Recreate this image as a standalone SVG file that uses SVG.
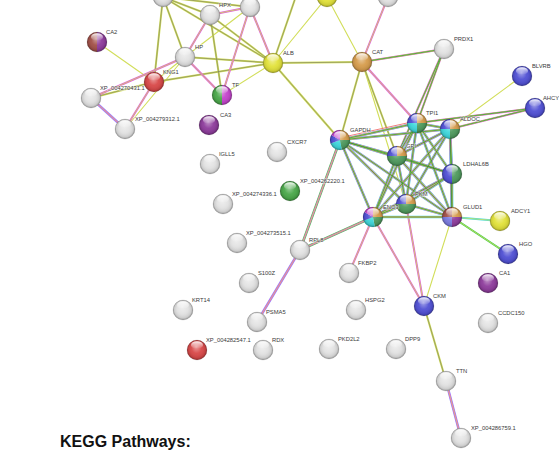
<svg xmlns="http://www.w3.org/2000/svg" xmlns:xlink="http://www.w3.org/1999/xlink" width="559" height="450" viewBox="0 0 559 450">
  <style>
    .lbl { font-family: "Liberation Sans", Arial, sans-serif; font-size: 5.8px; fill: #3a3a3a; stroke: #ffffff; stroke-width: 1.1px; stroke-opacity: 0.7; paint-order: stroke; }
    .title { font-family: "Liberation Sans", Arial, sans-serif; font-size: 16px; font-weight: bold; fill: #111111; }
    .gry { fill: #e2e2e2; }
    .yel { fill: #e2e23a; }
    .org { fill: #d69c4c; }
    .blu { fill: #5050d4; }
    .pur { fill: #8e3c9c; }
    .red { fill: #d84848; }
    .grn { fill: #4aa84a; }
    .dgr { fill: #4f9a5e; }
    .cyn { fill: #3fd8dc; }
    .mag { fill: #c444cc; }
    .brn { fill: #a25048; }
    .lav { fill: #7c7ce0; }
    /* evidence channel strokes */
    .ev-y1 { stroke: #d2de5a; stroke-width: 1.1; }
    .ev-y  { stroke: #d2de5a; stroke-width: 2.0; }
    .ev-k  { stroke: #666666; stroke-width: 0.5; }
    .ev-mo { stroke: #e058e0; stroke-width: 2.0; }
    .ev-yi { stroke: #d2de5a; stroke-width: 0.8; }
    .ev-c  { stroke: #4adce2; stroke-width: 2.7; }
    .ev-m  { stroke: #e050e0; stroke-width: 2.0; }
    .ev-ym { stroke: #d2de5a; stroke-width: 1.35; }
    .ev-g  { stroke: #44cc50; stroke-width: 0.75; }
    .ev-k0 { stroke: #333333; stroke-width: 0.28; }
    .ev-b  { stroke: #9090ff; stroke-width: 2.6; }
    .ev-mh { stroke: #e050e0; stroke-width: 1.6; }
    .ev-yh { stroke: #d2de5a; stroke-width: 0.7; }
    .ev-gw { stroke: #44cc50; stroke-width: 2.6; }
    .ev-gt { stroke: #44cc50; stroke-width: 2.0; }
    .ev-cw { stroke: #4adce2; stroke-width: 2.0; }
    .ev-ys { stroke: #d2de5a; stroke-width: 0.8; }
  </style>
  <defs>
    <radialGradient id="shade" cx="50%" cy="50%" r="50%" fx="46%" fy="34%">
      <stop offset="0" stop-color="#ffffff" stop-opacity="0.45"/>
      <stop offset="0.5" stop-color="#ffffff" stop-opacity="0.05"/>
      <stop offset="0.85" stop-color="#000000" stop-opacity="0.1"/>
      <stop offset="1" stop-color="#000000" stop-opacity="0.36"/>
    </radialGradient>
    <linearGradient id="gloss" x1="0" y1="0" x2="0" y2="1">
      <stop offset="0" stop-color="#ffffff" stop-opacity="0.95"/>
      <stop offset="1" stop-color="#ffffff" stop-opacity="0"/>
    </linearGradient>
    <g id="ball">
      <circle r="10" fill="url(#shade)" stroke="#000000" stroke-opacity="0.16" stroke-width="0.6"/>
      <ellipse cx="0" cy="-5" rx="6" ry="3.8" fill="url(#gloss)"/>
    </g>
    <!-- pie pieces, radius 10 -->
    <path id="q-tl" d="M0,0 L-10,0 A10,10 0 0 1 0,-10 Z"/>
    <path id="q-tr" d="M0,0 L0,-10 A10,10 0 0 1 10,0 Z"/>
    <path id="q-br" d="M0,0 L10,0 A10,10 0 0 1 0,10 Z"/>
    <path id="q-bl" d="M0,0 L0,10 A10,10 0 0 1 -10,0 Z"/>
    <path id="h-l" d="M0,-10 A10,10 0 0 0 0,10 Z"/>
    <path id="h-r" d="M0,-10 A10,10 0 0 1 0,10 Z"/>
    <path id="s5-a" d="M0,0 L0,-10 A10,10 0 0 1 10,0 Z"/>
    <path id="s5-b" d="M0,0 L10,0 A10,10 0 0 1 1.74,9.85 Z"/>
    <path id="s5-c" d="M0,0 L1.74,9.85 A10,10 0 0 1 -9.4,3.42 Z"/>
    <path id="s5-d" d="M0,0 L-9.4,3.42 A10,10 0 0 1 -8.66,-5 Z"/>
    <path id="s5-e" d="M0,0 L-8.66,-5 A10,10 0 0 1 0,-10 Z"/>

    <!-- edge sets, grouped by evidence mix -->
    <g id="set-t">
      <line x1="250" y1="7" x2="185" y2="57"/>
      <line x1="185" y1="57" x2="154" y2="82"/>
      <line x1="125" y1="129" x2="185" y2="57"/>
      <line x1="97" y1="42" x2="154" y2="82"/>
      <line x1="222" y1="95" x2="273" y2="63"/>
      <line x1="273" y1="63" x2="327" y2="-3"/>
      <line x1="327" y1="-3" x2="362" y2="62"/>
      <line x1="362" y1="62" x2="406" y2="204"/>
      <line x1="522" y1="76" x2="450" y2="129"/>
      <line x1="424" y1="306" x2="452" y2="217"/>
    </g>
    <g id="set-tk">
      <line x1="163" y1="-3" x2="210" y2="15"/>
      <line x1="163" y1="-3" x2="250" y2="7"/>
      <line x1="163" y1="-3" x2="185" y2="57"/>
      <line x1="163" y1="-3" x2="154" y2="82"/>
      <line x1="163" y1="-3" x2="273" y2="63"/>
      <line x1="210" y1="15" x2="222" y2="95"/>
      <line x1="210" y1="15" x2="273" y2="63"/>
      <line x1="185" y1="57" x2="273" y2="63"/>
      <line x1="154" y1="82" x2="273" y2="63"/>
      <line x1="154" y1="82" x2="91" y2="98"/>
      <line x1="273" y1="63" x2="305" y2="-30"/>
      <line x1="273" y1="63" x2="362" y2="62"/>
      <line x1="273" y1="63" x2="340" y2="140"/>
      <line x1="362" y1="62" x2="340" y2="140"/>
      <line x1="362" y1="62" x2="397" y2="156"/>
      <line x1="424" y1="306" x2="446" y2="381"/>
    </g>
    <g id="set-tm">
      <line x1="210" y1="15" x2="250" y2="7"/>
      <line x1="210" y1="15" x2="185" y2="57"/>
      <line x1="250" y1="7" x2="273" y2="63"/>
      <line x1="250" y1="7" x2="222" y2="95"/>
      <line x1="185" y1="57" x2="222" y2="95"/>
      <line x1="185" y1="57" x2="91" y2="98"/>
      <line x1="154" y1="82" x2="125" y2="129"/>
      <line x1="388" y1="-3" x2="362" y2="62"/>
      <line x1="362" y1="62" x2="417" y2="123"/>
      <line x1="373" y1="217" x2="349" y2="273"/>
      <line x1="424" y1="306" x2="373" y2="217"/>
      <line x1="424" y1="306" x2="406" y2="204"/>
    </g>
    <g id="set-multi">
      <line x1="362" y1="62" x2="444" y2="49"/>
      <line x1="444" y1="49" x2="417" y2="123"/>
      <line x1="444" y1="49" x2="397" y2="156"/>
      <line x1="535" y1="108" x2="417" y2="123"/>
      <line x1="535" y1="108" x2="450" y2="129"/>
    </g>
    <g id="set-full">
      <line x1="340" y1="140" x2="417" y2="123"/>
      <line x1="340" y1="140" x2="450" y2="129"/>
      <line x1="340" y1="140" x2="397" y2="156"/>
      <line x1="340" y1="140" x2="406" y2="204"/>
      <line x1="340" y1="140" x2="373" y2="217"/>
      <line x1="340" y1="140" x2="452" y2="217"/>
      <line x1="340" y1="140" x2="452" y2="174"/>
      <line x1="417" y1="123" x2="450" y2="129"/>
      <line x1="417" y1="123" x2="397" y2="156"/>
      <line x1="417" y1="123" x2="406" y2="204"/>
      <line x1="417" y1="123" x2="373" y2="217"/>
      <line x1="417" y1="123" x2="452" y2="217"/>
      <line x1="417" y1="123" x2="452" y2="174"/>
      <line x1="450" y1="129" x2="397" y2="156"/>
      <line x1="450" y1="129" x2="406" y2="204"/>
      <line x1="450" y1="129" x2="373" y2="217"/>
      <line x1="450" y1="129" x2="452" y2="217"/>
      <line x1="450" y1="129" x2="452" y2="174"/>
      <line x1="397" y1="156" x2="406" y2="204"/>
      <line x1="397" y1="156" x2="373" y2="217"/>
      <line x1="397" y1="156" x2="452" y2="217"/>
      <line x1="397" y1="156" x2="452" y2="174"/>
      <line x1="406" y1="204" x2="373" y2="217"/>
      <line x1="406" y1="204" x2="452" y2="217"/>
      <line x1="406" y1="204" x2="452" y2="174"/>
      <line x1="373" y1="217" x2="452" y2="217"/>
      <line x1="373" y1="217" x2="452" y2="174"/>
      <line x1="452" y1="174" x2="452" y2="217"/>
    </g>
    <g id="set-hom">
      <line x1="91" y1="98" x2="125" y2="129"/>
      <line x1="300" y1="250" x2="257" y2="322"/>
      <line x1="446" y1="381" x2="461" y2="438"/>
    </g>
    <g id="set-gm">
      <line x1="340" y1="140" x2="300" y2="250"/>
      <line x1="373" y1="217" x2="300" y2="250"/>
    </g>
    <g id="set-tg">
      <line x1="452" y1="217" x2="508" y2="254"/>
    </g>
    <g id="set-cy">
      <line x1="452" y1="217" x2="500" y2="221"/>
    </g>
  </defs>

  <rect width="559" height="450" fill="#ffffff"/>

  <!-- connectors: each set drawn as stacked evidence strands -->
  <g id="connectors" fill="none" stroke-linecap="round">
    <use href="#set-t" class="ev-y1"/>
    <use href="#set-tk" class="ev-y"/>
    <use href="#set-tk" class="ev-k"/>
    <use href="#set-tm" class="ev-mo"/>
    <use href="#set-tm" class="ev-yi"/>
    <use href="#set-hom" class="ev-b"/>
    <use href="#set-hom" class="ev-mh"/>
    <use href="#set-hom" class="ev-yh"/>
    <use href="#set-gm" class="ev-gw"/>
    <use href="#set-gm" class="ev-mh"/>
    <use href="#set-gm" class="ev-yh"/>
    <use href="#set-tg" class="ev-gt"/>
    <use href="#set-tg" class="ev-ys"/>
    <use href="#set-cy" class="ev-cw"/>
    <use href="#set-cy" class="ev-ys"/>
    <use href="#set-multi" class="ev-m"/>
    <use href="#set-multi" class="ev-ym"/>
    <use href="#set-multi" class="ev-g"/>
    <use href="#set-multi" class="ev-k0"/>
    <use href="#set-full" class="ev-c"/>
    <use href="#set-full" class="ev-m"/>
    <use href="#set-full" class="ev-ym"/>
    <use href="#set-full" class="ev-g"/>
    <use href="#set-full" class="ev-k0"/>
    <!-- gene fusion strand -->
    <line x1="340" y1="137.8" x2="417" y2="120.8" stroke="#f06060" stroke-width="0.8"/>
  </g>

  <!-- nodes -->
  <g id="n-top1" transform="translate(163,-3)"><circle r="10" class="gry"/><use href="#ball"/></g>
  <g id="n-HPX" transform="translate(210,15)"><circle r="10" class="gry"/><use href="#ball"/><text class="lbl" x="9" y="-8">HPX</text></g>
  <g id="n-top2" transform="translate(250,7)"><circle r="10" class="gry"/><use href="#ball"/></g>
  <g id="n-top3" transform="translate(327,-3)"><circle r="10" class="yel"/><use href="#ball"/></g>
  <g id="n-top4" transform="translate(388,-3)"><circle r="10" class="gry"/><use href="#ball"/></g>
  <g id="n-HP" transform="translate(185,57)"><circle r="10" class="gry"/><use href="#ball"/><text class="lbl" x="10" y="-8">HP</text></g>
  <g id="n-CA2" transform="translate(97,42)"><use href="#h-l" class="brn"/><use href="#h-r" class="pur"/><use href="#ball"/><text class="lbl" x="9" y="-8">CA2</text></g>
  <g id="n-KNG1" transform="translate(154,82)"><circle r="10" class="red"/><use href="#ball"/><text class="lbl" x="9" y="-8">KNG1</text></g>
  <g id="n-XP_004270431" transform="translate(91,98)"><circle r="10" class="gry"/><use href="#ball"/><text class="lbl" x="9" y="-8">XP_004270431.1</text></g>
  <g id="n-XP_004279312" transform="translate(125,129)"><circle r="10" class="gry"/><use href="#ball"/><text class="lbl" x="10" y="-8">XP_004279312.1</text></g>
  <g id="n-TF" transform="translate(222,95)"><use href="#h-l" class="grn"/><use href="#h-r" class="mag"/><use href="#ball"/><text class="lbl" x="10" y="-8">TF</text></g>
  <g id="n-ALB" transform="translate(273,63)"><circle r="10" class="yel"/><use href="#ball"/><text class="lbl" x="10" y="-8">ALB</text></g>
  <g id="n-CA3" transform="translate(209,125)"><circle r="10" class="pur"/><use href="#ball"/><text class="lbl" x="11" y="-8">CA3</text></g>
  <g id="n-CAT" transform="translate(362,62)"><circle r="10" class="org"/><use href="#ball"/><text class="lbl" x="10" y="-8">CAT</text></g>
  <g id="n-PRDX1" transform="translate(444,49)"><circle r="10" class="gry"/><use href="#ball"/><text class="lbl" x="10" y="-8">PRDX1</text></g>
  <g id="n-BLVRB" transform="translate(522,76)"><circle r="10" class="blu"/><use href="#ball"/><text class="lbl" x="10" y="-8">BLVRB</text></g>
  <g id="n-AHCY" transform="translate(535,108)"><circle r="10" class="blu"/><use href="#ball"/><text class="lbl" x="8" y="-8">AHCY</text></g>
  <g id="n-CXCR7" transform="translate(277,152)"><circle r="10" class="gry"/><use href="#ball"/><text class="lbl" x="10" y="-8">CXCR7</text></g>
  <g id="n-IGLL5" transform="translate(210,164)"><circle r="10" class="gry"/><use href="#ball"/><text class="lbl" x="9" y="-8">IGLL5</text></g>
  <g id="n-XP_004262220" transform="translate(290,191)"><circle r="10" class="grn"/><use href="#ball"/><text class="lbl" x="10" y="-8">XP_004262220.1</text></g>
  <g id="n-XP_004274336" transform="translate(223,204)"><circle r="10" class="gry"/><use href="#ball"/><text class="lbl" x="9" y="-8">XP_004274336.1</text></g>
  <g id="n-XP_004273515" transform="translate(237,243)"><circle r="10" class="gry"/><use href="#ball"/><text class="lbl" x="9" y="-8">XP_004273515.1</text></g>
  <g id="n-RPL8" transform="translate(300,250)"><circle r="10" class="gry"/><use href="#ball"/><text class="lbl" x="9" y="-8">RPL8</text></g>
  <g id="n-FKBP2" transform="translate(349,273)"><circle r="10" class="gry"/><use href="#ball"/><text class="lbl" x="9" y="-8">FKBP2</text></g>
  <g id="n-S100Z" transform="translate(249,283)"><circle r="10" class="gry"/><use href="#ball"/><text class="lbl" x="9" y="-8">S100Z</text></g>
  <g id="n-KRT14" transform="translate(183,310)"><circle r="10" class="gry"/><use href="#ball"/><text class="lbl" x="9" y="-8">KRT14</text></g>
  <g id="n-PSMA5" transform="translate(257,322)"><circle r="10" class="gry"/><use href="#ball"/><text class="lbl" x="9" y="-8">PSMA5</text></g>
  <g id="n-XP_004282547" transform="translate(197,350)"><circle r="10" class="red"/><use href="#ball"/><text class="lbl" x="9" y="-8">XP_004282547.1</text></g>
  <g id="n-RDX" transform="translate(263,350)"><circle r="10" class="gry"/><use href="#ball"/><text class="lbl" x="9" y="-8">RDX</text></g>
  <g id="n-HSPG2" transform="translate(356,310)"><circle r="10" class="gry"/><use href="#ball"/><text class="lbl" x="9" y="-8">HSPG2</text></g>
  <g id="n-PKD2L2" transform="translate(329,349)"><circle r="10" class="gry"/><use href="#ball"/><text class="lbl" x="9" y="-8">PKD2L2</text></g>
  <g id="n-DPP9" transform="translate(396,349)"><circle r="10" class="gry"/><use href="#ball"/><text class="lbl" x="9" y="-8">DPP9</text></g>
  <g id="n-GAPDH" transform="translate(340,140)"><use href="#s5-a" class="org"/><use href="#s5-b" class="dgr"/><use href="#s5-c" class="cyn"/><use href="#s5-d" class="blu"/><use href="#s5-e" class="mag"/><use href="#ball"/><text class="lbl" x="10" y="-8">GAPDH</text></g>
  <g id="n-TPI1" transform="translate(417,123)"><use href="#q-tl" class="blu"/><use href="#q-tr" class="org"/><use href="#q-br" class="dgr"/><use href="#q-bl" class="cyn"/><use href="#ball"/><text class="lbl" x="9" y="-8">TPI1</text></g>
  <g id="n-ALDOC" transform="translate(450,129)"><use href="#q-tl" class="blu"/><use href="#q-tr" class="org"/><use href="#q-br" class="dgr"/><use href="#q-bl" class="cyn"/><use href="#ball"/><text class="lbl" x="10" y="-8">ALDOC</text></g>
  <g id="n-GPI" transform="translate(397,156)"><use href="#q-tl" class="blu"/><use href="#q-tr" class="org"/><use href="#q-br" class="dgr"/><use href="#q-bl" class="dgr"/><use href="#ball"/><text class="lbl" x="9" y="-8">GPI</text></g>
  <g id="n-LDHAL6B" transform="translate(452,174)"><use href="#h-l" class="blu"/><use href="#h-r" class="dgr"/><use href="#ball"/><text class="lbl" x="11" y="-8">LDHAL6B</text></g>
  <g id="n-PKM" transform="translate(406,204)"><use href="#q-tl" class="blu"/><use href="#q-tr" class="org"/><use href="#q-br" class="dgr"/><use href="#q-bl" class="dgr"/><use href="#ball"/><text class="lbl" x="9" y="-8">PKM</text></g>
  <g id="n-ENO3" transform="translate(373,217)"><use href="#s5-a" class="org"/><use href="#s5-b" class="dgr"/><use href="#s5-c" class="cyn"/><use href="#s5-d" class="blu"/><use href="#s5-e" class="mag"/><use href="#ball"/><text class="lbl" x="10" y="-8">ENO3</text></g>
  <g id="n-GLUD1" transform="translate(452,217)"><use href="#q-tl" class="brn"/><use href="#q-tr" class="org"/><use href="#q-br" class="pur"/><use href="#q-bl" class="lav"/><use href="#ball"/><text class="lbl" x="11" y="-8">GLUD1</text></g>
  <g id="n-ADCY1" transform="translate(500,221)"><circle r="10" class="yel"/><use href="#ball"/><text class="lbl" x="11" y="-8">ADCY1</text></g>
  <g id="n-HGO" transform="translate(508,254)"><circle r="10" class="blu"/><use href="#ball"/><text class="lbl" x="11" y="-8">HGO</text></g>
  <g id="n-CA1" transform="translate(488,283)"><circle r="10" class="pur"/><use href="#ball"/><text class="lbl" x="11" y="-8">CA1</text></g>
  <g id="n-CKM" transform="translate(424,306)"><circle r="10" class="blu"/><use href="#ball"/><text class="lbl" x="9" y="-8">CKM</text></g>
  <g id="n-CCDC150" transform="translate(488,323)"><circle r="10" class="gry"/><use href="#ball"/><text class="lbl" x="10" y="-8">CCDC150</text></g>
  <g id="n-TTN" transform="translate(446,381)"><circle r="10" class="gry"/><use href="#ball"/><text class="lbl" x="10" y="-8">TTN</text></g>
  <g id="n-XP_004286759" transform="translate(461,438)"><circle r="10" class="gry"/><use href="#ball"/><text class="lbl" x="10" y="-8">XP_004286759.1</text></g>

  <text class="title" x="60" y="446.5">KEGG Pathways:</text>
</svg>
